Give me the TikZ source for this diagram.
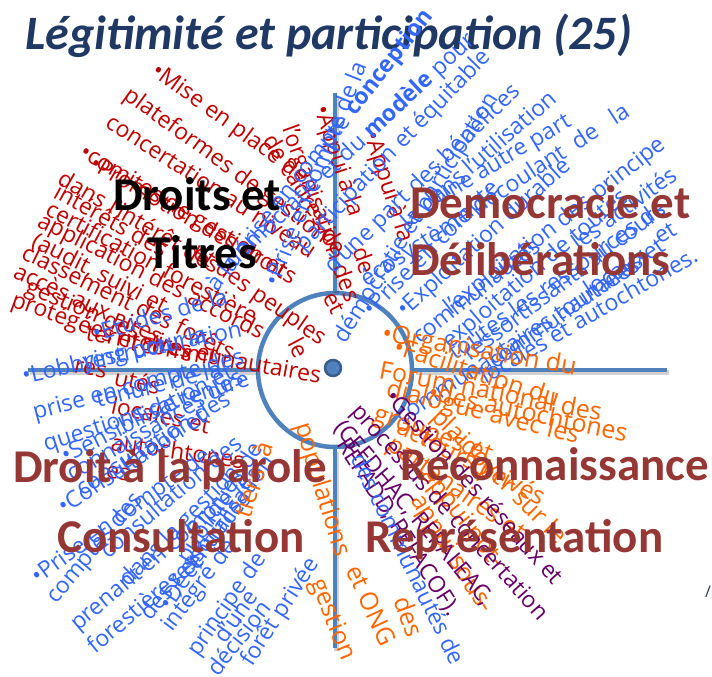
\documentclass[tikz,border=0pt]{standalone}
\usepackage{fontspec}
\setmainfont{Open Sans}
\newfontfamily\calib{Carlito}
\definecolor{cRed}{RGB}{192,0,0}
\definecolor{cBlue}{RGB}{51,102,255}
\definecolor{cOrange}{RGB}{255,102,0}
\definecolor{cPurple}{RGB}{102,0,102}
\definecolor{cBrown}{RGB}{149,55,53}
\definecolor{cTitle}{RGB}{31,56,100}
\definecolor{cLine}{RGB}{79,129,189}
\definecolor{cDot}{RGB}{56,93,138}
\newcommand\mysm{\fontsize{23}{26}\selectfont}
\newcommand\myor{\fontsize{25}{28}\selectfont}
\newcommand\mybig{\calib\bfseries\fontsize{47}{50}\selectfont}
\tikzset{
  sm/.style={font=\mysm, inner sep=0pt, anchor=base west},
  rd/.style={sm, text=cRed},
  bl/.style={sm, text=cBlue},
  og/.style={sm, font=\myor, text=cOrange},
  pu/.style={sm, text=cPurple},
  pre/.style={anchor=base east},
  biglbl/.style={font=\mybig, inner sep=0pt, anchor=base west, text=cBrown},
  axisline/.style={draw=cLine, line width=4.5pt},
  shadowline/.style={draw=black, opacity=0.18, line width=4.5pt},
}
\begin{document}
\begin{tikzpicture}[x=1pt,y=-1pt]
\useasboundingbox (0,0) rectangle (712,677);
% title
\node[font=\calib\bfseries\itshape\fontsize{48}{50}\selectfont, text=cTitle, anchor=base west, inner sep=0pt] (title) at (25,50) {Légitimité et participation (25)};
% hub and axes
\node[circle, draw=cLine, line width=4.5pt, minimum size=154pt, inner sep=0pt] (hub) at (335,370) {};
\coordinate (eTop) at (335,93);
\coordinate (eLeft) at (28,370);
\coordinate (eRight) at (667,370);
\coordinate (eBot) at (335,648);
\draw[shadowline] ([shift={(1.5,2.5)}]hub.north) -- ([shift={(1.5,2.5)}]eTop);
\draw[shadowline] ([shift={(1.5,2.5)}]hub.west) -- ([shift={(1.5,2.5)}]eLeft);
\draw[shadowline] ([shift={(1.5,2.5)}]hub.east) -- ([shift={(1.5,2.5)}]eRight);
\draw[shadowline] ([shift={(1.5,2.5)}]hub.south) -- ([shift={(1.5,2.5)}]eBot);
\draw[axisline] (hub.north) -- (eTop);
\draw[axisline] (hub.west) -- (eLeft);
\draw[axisline] (hub.east) -- (eRight);
\draw[axisline] (hub.south) -- (eBot);
\node[circle, fill=cLine, draw=cDot, line width=2.5pt, minimum size=16pt, inner sep=0pt] (dot) at (333,368) {};

% ---------- red, top left ----------
\node[rd, rotate=-36] (r1) at (150,74) {\textbullet Mise en place de};
\node[rd, rotate=-36] (r2) at (122,98) {plateformes de gestion};
\node[rd, rotate=-33] (r3) at (104,126) {concertation au niveau};
\node[rd, rotate=-31] (r4) at (78,156) {\textbullet comites de gestion et};
\node[rd, rotate=-30] (r5) at (88,168) {\textbullet Promotion des droits};
\node[rd, rotate=-30] (r6) at (56,183) {dans l’intérêt des};
\node[rd, rotate=-29] (r7) at (52,197) {intérêts des};
\node[rd, rotate=-28] (r8) at (44,214) {certification forestière};
\node[rd, rotate=-27] (r9) at (36,226) {application des accords};
\node[rd, rotate=-27] (r10) at (30,246) {(audit, suivi et};
\node[rd, rotate=-26] (r11) at (20,258) {classement des forêts};
\node[rd, rotate=-25] (r12) at (12,277) {accès aux aires};
\node[rd, rotate=-23] (r13) at (24,292) {gestion des aires};
\node[rd, rotate=-20] (r14) at (10,306) {protégées et};
\node[rd, rotate=-35] (rp) at (250,297) {peuples};
\node[rd, rotate=-35, pre] (rpp) at (250,297) {et des\ \mbox{}};
\node[rd, rotate=-72] (rb1) at (314,108) {\textbullet Appui à la};
\node[rd, rotate=-72] (rb2) at (364,134) {\textbullet Appui à la};
\node[rd, rotate=-70] (rb2b) at (352,250) {de};
\node[rd, rotate=-70] (rb3) at (282,128) {l’organisation des};
\node[rd, rotate=-58] (rb4) at (262,140) {de cadres de};
\node[rd, rotate=-62] (rb6) at (287,343) {le};
\node[rd, rotate=-62] (rb7) at (322,297) {et};
% red continuing below the left axis
\node[rd, rotate=-10] (rc1) at (85,340) {territoires et};
\node[rd, rotate=-10] (rc2) at (140,352) {communautaires};
\node[rd, rotate=-12] (rc3) at (73,372) {res};
\node[rd, rotate=-12] (rc4) at (113,385) {utés};
\node[rd, rotate=-12] (rc5) at (110,413) {locales et};
\node[rd, rotate=-8] (rc6) at (110,450) {autochtones};
\node[rd, rotate=-10] (rc7) at (105,477) {es};

% ---------- blue, top right ----------
\node[bl, rotate=52] (b1s) at (355,117) {\textbf{conception}};
\node[bl, rotate=52, pre] (b1p) at (355,117) {à la prise en compte\ \mbox{}};
\node[bl, rotate=43] (b2s) at (372,140) {\textbf{modèle} pour};
\node[bl, rotate=43, pre] (b2p) at (372,140) {démocratie et du\ \mbox{}};
\node[bl, rotate=46] (b3s) at (403,150) {et équitable};
\node[bl, rotate=46, pre] (b3p) at (403,150) {participation\ \mbox{}};
\node[bl, rotate=44] (b4s) at (416,195) {des bénéfices};
\node[bl, rotate=44, pre] (b4p) at (416,195) {d’une part\ \mbox{}};
\node[bl, rotate=41] (b5s) at (428,214) {dans l’utilisation};
\node[bl, rotate=41, pre] (b5p) at (428,214) {la\ \mbox{}};
\node[bl, rotate=31] (b6s) at (440,205) {une autre part};
\node[bl, rotate=33] (b7s) at (478,215) {découlant\ \ de\ \ \ la};
\node[bl, rotate=33, pre] (b7p) at (478,215) {écosystème\ \mbox{}};
\node[bl, rotate=38] (b8s) at (598,201) {principe};
\node[bl, rotate=38, pre] (b8p) at (598,201) {l’exploitation des\ \mbox{}};
\node[bl, rotate=36] (b9s) at (608,230) {activités};
\node[bl, rotate=36, pre] (b9p) at (608,230) {les\ \mbox{}};
\node[bl, rotate=35] (b10s) at (645,228) {de};
\node[bl, rotate=35, pre] (b10p) at (645,228) {toutes les ressources\ \mbox{}};
\node[bl, rotate=32] (b11s) at (660,245) {et};
\node[bl, rotate=30] (b12s) at (578,331) {autochtones.};
\node[bl, rotate=30, pre] (b12p) at (578,331) {locales et\ \mbox{}};
\node[bl, rotate=33] (b13s) at (560,322) {tournées};
\node[bl, rotate=33, pre] (b13p) at (560,322) {communautaires\ \mbox{}};
\node[bl, rotate=33] (b14s) at (590,298) {locaux};
\node[bl, rotate=58] (b15) at (345,345) {démocratie et participation};
\node[bl, rotate=45] (b16) at (372,318) {\textbullet Prise en compte};
\node[bl, rotate=42] (b17) at (405,318) {\textbullet Exploitation durable};
\node[bl, rotate=38] (b18) at (420,345) {communautés};
\node[bl, rotate=40] (b19) at (450,350) {exploitation de toutes};
\node[bl, rotate=37] (b20) at (470,362) {ressortissants au cours};
\node[bl, rotate=35] (b21) at (495,370) {communautaires et};
\node[bl, rotate=68] (b22) at (278,288) {\textbullet Prise en compte de la};

% ---------- blue, bottom left ----------
\node[bl, rotate=13] (d1) at (24,384) {\textbullet Lobbying pour la};
\node[bl, rotate=12] (d5) at (85,370) {restructuration};
\node[bl, rotate=15] (d2) at (35,420) {prise en compte des};
\node[bl, rotate=14] (d4) at (98,408) {tenure de la};
\node[bl, rotate=18] (d3) at (46,452) {questions de tenure};
\node[bl, rotate=27] (d6) at (66,464) {\textbullet Sensibilisation et};
\node[bl, rotate=30] (d7) at (72,482) {connaissances des};
\node[bl, rotate=32] (d8) at (82,497) {consultation des};
\node[bl, rotate=33] (d9) at (64,515) {\textbullet Consultation et};
\node[bl, rotate=40] (d20) at (108,560) {consultation des};
\node[bl, rotate=45] (d21) at (128,588) {dans la gestion};
\node[bl, rotate=36] (d11) at (38,585) {\textbullet Prise en compte de};
\node[bl, rotate=50] (d10) at (56,605) {comptes des};
\node[bl, rotate=40] (d12) at (78,632) {prenant en compte les};
\node[bl, rotate=40] (d13) at (95,655) {forestières et};
\node[bl, rotate=50] (d22) at (150,622) {des ressources};
\node[bl, rotate=57] (d23) at (188,565) {publiques de};
\node[bl, rotate=55] (d14) at (170,612) {\textbullet Décentralisation};
\node[bl, rotate=53] (d15) at (172,633) {intégré de};
\node[bl, rotate=55] (d16) at (198,658) {principe de};
\node[bl, rotate=55] (d19) at (225,645) {d’une};
\node[bl, rotate=52] (d17) at (218,678) {décision};
\node[bl, rotate=57] (d18) at (252,668) {forêt privée};
\node[bl, rotate=16] (d24) at (95,342) {\textbullet Etudes de la};

% ---------- orange / purple, bottom right ----------
\node[og, rotate=-10] (o1) at (381,341) {\textbullet Organisation du};
\node[og, rotate=-18] (o2) at (392,354) {\textbullet Facilitation du};
\node[og, rotate=-11] (o3) at (378,378) {Forum national des};
\node[og, rotate=-14] (o4) at (385,396) {dialogue avec les};
\node[og, rotate=-12] (o5) at (427,400) {\textbullet des autochtones};
\node[og, rotate=-20] (o6) at (372,420) {groupes et};
\node[og, rotate=-27] (o7) at (395,432) {acteurs privés};
\node[og, rotate=-35] (o8) at (385,448) {partenaires et};
\node[og, rotate=-45] (o9) at (430,418) {plaidoyer sur le};
\node[og, rotate=-52] (o10) at (420,475) {appui pot-};
\node[og, rotate=-58] (o11) at (410,500) {appui sous-};
\node[og, rotate=-73] (o12) at (295,425) {populations};
\node[og, rotate=-68] (o13) at (310,582) {gestion};
\node[og, rotate=-65] (o14) at (345,570) {et ONG};
\node[og, rotate=-70] (o15) at (393,600) {des};
\node[og, rotate=72] (o16) at (250,520) {tiers\ \ à};
\node[pu, rotate=-48] (p1) at (384,398) {\textbullet Gestion des réseaux et};
\node[pu, rotate=-48] (p2) at (350,412) {processus de concertation};
\node[pu, rotate=-50] (p3) at (333,428) {(CEFDHAC, REPALEAC,};
\node[pu, rotate=-57] (p4) at (336,444) {REFADD, REFACOF).};
\node[bl, rotate=-64] (bb1) at (350,458) {des communautés de};
\node[font=\fontsize{16}{18}\selectfont, text=cTitle, inner sep=0pt, anchor=base west] (edge) at (705,597) {/};

% ---------- big labels ----------
\node[biglbl, text=black] (l1a) at (113,210) {Droits et};
\node[biglbl, text=black] (l1b) at (147,268) {Titres};
\node[biglbl] (l2a) at (410,218) {Democracie et};
\node[biglbl] (l2b) at (410,275) {Délibérations};
\node[biglbl] (l3a) at (13,482) {Droit à la parole};
\node[biglbl] (l3b) at (57,552) {Consultation};
\node[biglbl] (l4a) at (400,480) {Reconnaissance};
\node[biglbl] (l4b) at (365,552) {Représentation};
\end{tikzpicture}
\end{document}
